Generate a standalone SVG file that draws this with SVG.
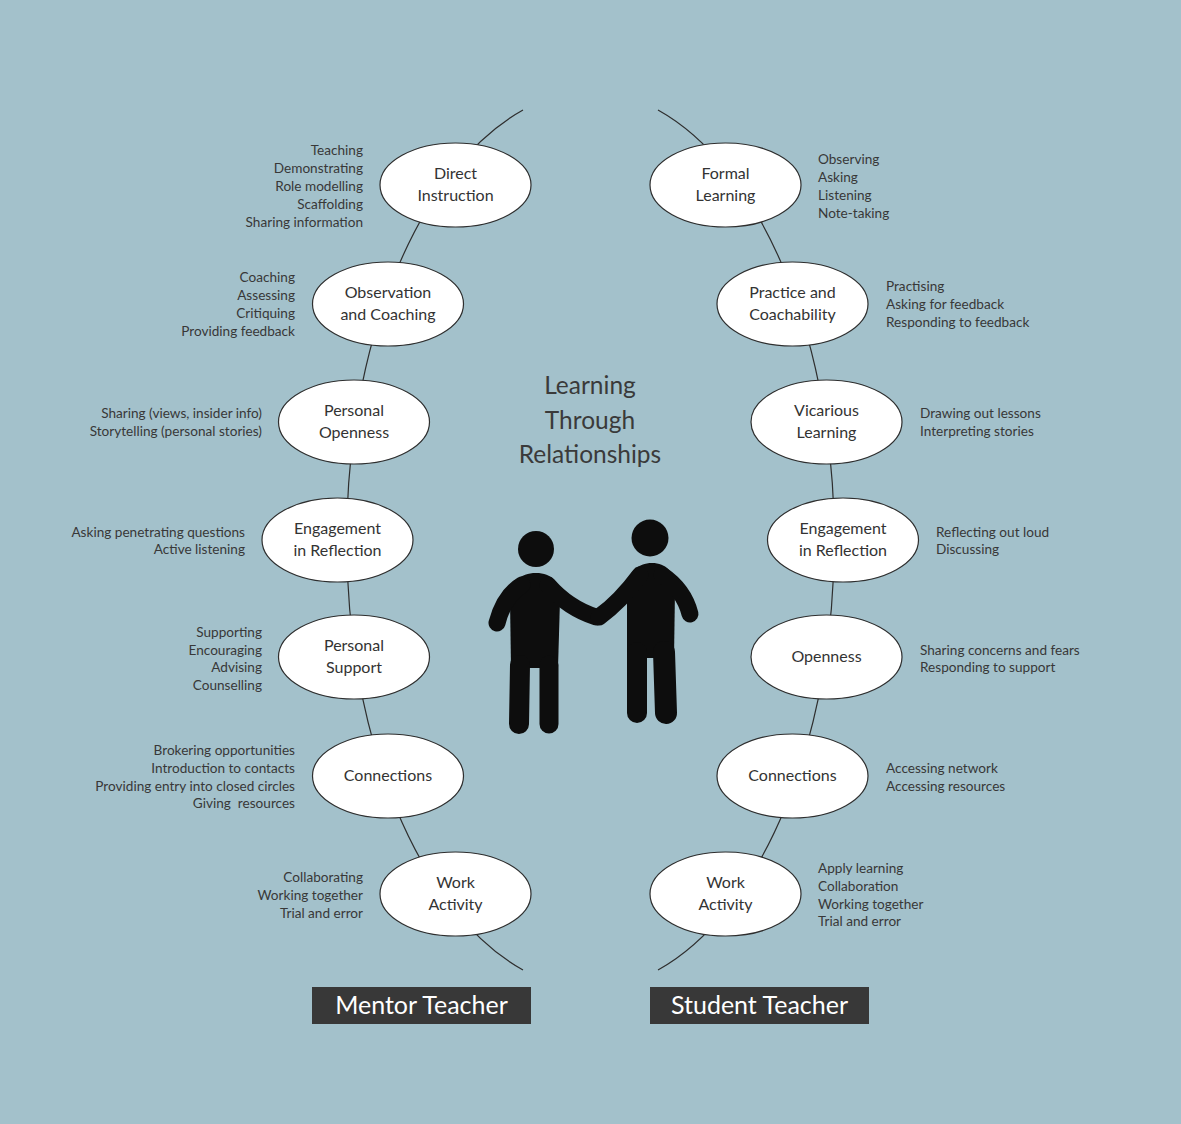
<svg xmlns="http://www.w3.org/2000/svg" width="1181" height="1124" viewBox="0 0 1181 1124">
<style>
.node ellipse{fill:#fff;stroke:#2e2e2e;stroke-width:1.2}
.nt{font-family:Lato,"Open Sans",sans-serif;font-size:16px;fill:#333;text-anchor:middle}
.lbl{font-family:Lato,"Open Sans",sans-serif;font-size:13.6px;fill:#383838}
.l{text-anchor:end}
.r{text-anchor:start}
.arc{fill:none;stroke:#2e2e2e;stroke-width:1.2}
.title{font-family:Lato,"Open Sans",sans-serif;font-size:24.5px;fill:#3a3a3a;text-anchor:middle}
.box rect{fill:#383838}
.box text{font-family:Lato,"Open Sans",sans-serif;font-size:25px;fill:#fff;text-anchor:middle}
.fig{fill:#0d0d0d}
.limb{fill:none;stroke:#0d0d0d;stroke-linecap:round}
</style>
<rect x="0" y="0" width="1181" height="1124" fill="#A3C1CB"/>
<g id="connectors">
<path class="arc" d="M523,110 A250,450 0 0 0 523,970"/>
<path class="arc" d="M658,110 A250,450 0 0 1 658,970"/>
</g>
<g id="title">
<text class="title" x="590" y="394">Learning</text>
<text class="title" x="590" y="429">Through</text>
<text class="title" x="590" y="463">Relationships</text>
</g>
<g id="figures">
<circle class="fig" cx="536" cy="549" r="18"/>
<path class="fig" d="M510,600 C510,582 520,573 536,573 C552,573 560,582 560,600 L558,668 L511,668 Z"/>
<path class="limb" stroke-width="20" d="M520,665 L519,724"/>
<path class="limb" stroke-width="19" d="M549,665 L549,724"/>
<path class="limb" stroke-width="17" d="M522,585 Q504,596 497,623"/>
<path class="limb" stroke-width="17" d="M548,585 Q568,608 596,617"/>
<circle class="fig" cx="650" cy="538" r="18.5"/>
<path class="fig" d="M627,590 C627,572 638,563 652,563 C666,563 675,572 675,590 L674,658 L627,658 Z"/>
<path class="limb" stroke-width="20" d="M637,652 L637,713"/>
<path class="limb" stroke-width="22" d="M664,652 L666,713"/>
<path class="limb" stroke-width="17" d="M640,575 Q620,602 599,617"/>
<path class="limb" stroke-width="17" d="M662,575 Q684,590 690,614"/>
</g>
<g id="n-direct" class="node"><ellipse cx="455.5" cy="185" rx="75.5" ry="42"/><text class="nt" x="455.5" y="179">Direct</text><text class="nt" x="455.5" y="201">Instruction</text>
<text class="lbl l" x="363" y="154.5">Teaching</text><text class="lbl l" x="363" y="172.5">Demonstrating</text><text class="lbl l" x="363" y="190.5">Role modelling</text><text class="lbl l" x="363" y="208.5">Scaffolding</text><text class="lbl l" x="363" y="226.5">Sharing information</text></g>
<g id="n-observation" class="node"><ellipse cx="388" cy="304" rx="75.5" ry="42"/><text class="nt" x="388" y="298">Observation</text><text class="nt" x="388" y="320">and Coaching</text>
<text class="lbl l" x="295" y="281.5">Coaching</text><text class="lbl l" x="295" y="299.5">Assessing</text><text class="lbl l" x="295" y="317.5">Critiquing</text><text class="lbl l" x="295" y="335.5">Providing feedback</text></g>
<g id="n-personal-openness" class="node"><ellipse cx="354" cy="422" rx="75.5" ry="42"/><text class="nt" x="354" y="416">Personal</text><text class="nt" x="354" y="438">Openness</text>
<text class="lbl l" x="262" y="417.5">Sharing (views, insider info)</text><text class="lbl l" x="262" y="435.5">Storytelling (personal stories)</text></g>
<g id="n-engagement-m" class="node"><ellipse cx="337.5" cy="540" rx="75.5" ry="42"/><text class="nt" x="337.5" y="534">Engagement</text><text class="nt" x="337.5" y="556">in Reflection</text>
<text class="lbl l" x="245" y="536.5">Asking penetrating questions</text><text class="lbl l" x="245" y="553.5">Active listening</text></g>
<g id="n-personal-support" class="node"><ellipse cx="354" cy="657" rx="75.5" ry="42"/><text class="nt" x="354" y="651">Personal</text><text class="nt" x="354" y="673">Support</text>
<text class="lbl l" x="262" y="636.5">Supporting</text><text class="lbl l" x="262" y="654.5">Encouraging</text><text class="lbl l" x="262" y="671.5">Advising</text><text class="lbl l" x="262" y="689.5">Counselling</text></g>
<g id="n-connections-m" class="node"><ellipse cx="388" cy="776" rx="75.5" ry="42"/><text class="nt" x="388" y="781">Connections</text>
<text class="lbl l" x="295" y="754.5">Brokering opportunities</text><text class="lbl l" x="295" y="772.5">Introduction to contacts</text><text class="lbl l" x="295" y="790.5">Providing entry into closed circles</text><text class="lbl l" x="295" y="807.5" xml:space="preserve">Giving  resources</text></g>
<g id="n-work-m" class="node"><ellipse cx="455.5" cy="894" rx="75.5" ry="42"/><text class="nt" x="455.5" y="888">Work</text><text class="nt" x="455.5" y="910">Activity</text>
<text class="lbl l" x="363" y="881.5">Collaborating</text><text class="lbl l" x="363" y="899.5">Working together</text><text class="lbl l" x="363" y="917.5">Trial and error</text></g>
<g id="n-formal" class="node"><ellipse cx="725.5" cy="185" rx="75.5" ry="42"/><text class="nt" x="725.5" y="179">Formal</text><text class="nt" x="725.5" y="201">Learning</text>
<text class="lbl r" x="818" y="163.5">Observing</text><text class="lbl r" x="818" y="181.5">Asking</text><text class="lbl r" x="818" y="199.5">Listening</text><text class="lbl r" x="818" y="217.5">Note-taking</text></g>
<g id="n-practice" class="node"><ellipse cx="792.5" cy="304" rx="75.5" ry="42"/><text class="nt" x="792.5" y="298">Practice and</text><text class="nt" x="792.5" y="320">Coachability</text>
<text class="lbl r" x="886" y="290.5">Practising</text><text class="lbl r" x="886" y="308.5">Asking for feedback</text><text class="lbl r" x="886" y="326.5">Responding to feedback</text></g>
<g id="n-vicarious" class="node"><ellipse cx="826.5" cy="422" rx="75.5" ry="42"/><text class="nt" x="826.5" y="416">Vicarious</text><text class="nt" x="826.5" y="438">Learning</text>
<text class="lbl r" x="920" y="417.5">Drawing out lessons</text><text class="lbl r" x="920" y="435.5">Interpreting stories</text></g>
<g id="n-engagement-s" class="node"><ellipse cx="843" cy="540" rx="75.5" ry="42"/><text class="nt" x="843" y="534">Engagement</text><text class="nt" x="843" y="556">in Reflection</text>
<text class="lbl r" x="936" y="536.5">Reflecting out loud</text><text class="lbl r" x="936" y="553.5">Discussing</text></g>
<g id="n-openness" class="node"><ellipse cx="826.5" cy="657" rx="75.5" ry="42"/><text class="nt" x="826.5" y="662">Openness</text>
<text class="lbl r" x="920" y="654.5">Sharing concerns and fears</text><text class="lbl r" x="920" y="671.5">Responding to support</text></g>
<g id="n-connections-s" class="node"><ellipse cx="792.5" cy="776" rx="75.5" ry="42"/><text class="nt" x="792.5" y="781">Connections</text>
<text class="lbl r" x="886" y="772.5">Accessing network</text><text class="lbl r" x="886" y="790.5">Accessing resources</text></g>
<g id="n-work-s" class="node"><ellipse cx="725.5" cy="894" rx="75.5" ry="42"/><text class="nt" x="725.5" y="888">Work</text><text class="nt" x="725.5" y="910">Activity</text>
<text class="lbl r" x="818" y="872.5">Apply learning</text><text class="lbl r" x="818" y="890.5">Collaboration</text><text class="lbl r" x="818" y="908.5">Working together</text><text class="lbl r" x="818" y="925.5">Trial and error</text></g>
<g id="mentor" class="box"><rect x="312" y="987" width="219" height="37"/><text x="421.5" y="1014">Mentor Teacher</text></g>
<g id="student" class="box"><rect x="650" y="987" width="219" height="37"/><text x="759.5" y="1014">Student Teacher</text></g>
</svg>
